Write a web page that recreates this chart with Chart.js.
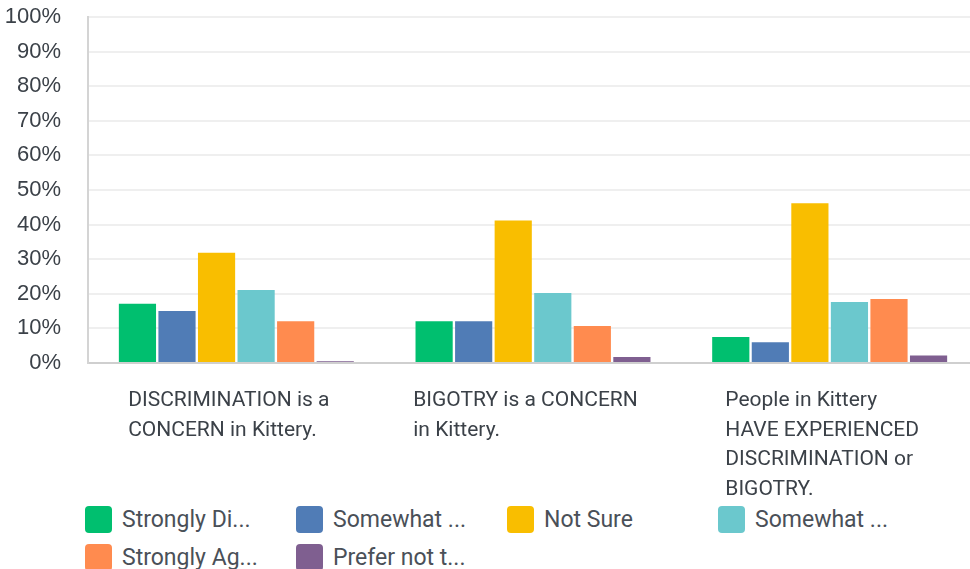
<!DOCTYPE html>
<html>
<head>
<meta charset="utf-8">
<script src="https://cdn.jsdelivr.net/npm/chart.js@4/dist/chart.umd.min.js"></script>
<style>
  html, body { margin: 0; padding: 0; background: #fff; overflow: hidden; width: 970px; height: 569px; }
  #wrap { position: absolute; left: 0; top: 0; width: 980px; height: 500px; }
  #legend { position: absolute; left: 85px; top: 506px; display: grid; grid-template-columns: repeat(4, 211px); row-gap: 11px; }
  .item { display: flex; align-items: center; height: 27px; font-family: Roboto, sans-serif; font-size: 23px; color: #4a5058; white-space: nowrap; }
  .box { width: 27px; height: 27px; border-radius: 4px; margin-right: 10px; flex: none; }
</style>
</head>
<body>
<div id="wrap"><canvas id="surveyChart"></canvas></div>
<div id="legend"></div>
<script>
const categories = [
  ['DISCRIMINATION is a', 'CONCERN in Kittery.'],
  ['BIGOTRY is a CONCERN', 'in Kittery.'],
  ['People in Kittery', 'HAVE EXPERIENCED', 'DISCRIMINATION or', 'BIGOTRY.']
];
const seriesNames = ['Strongly Di...', 'Somewhat ...', 'Not Sure', 'Somewhat ...', 'Strongly Ag...', 'Prefer not t...'];
const stronglyDisagree = [17.1, 12.1, 7.5];
const somewhatDisagree = [15.0, 12.1, 6.0];
const notSure = [31.9, 41.2, 46.2];
const somewhatAgree = [21.1, 20.2, 17.6];
const stronglyAgree = [12.1, 10.7, 18.5];
const preferNot = [0.5, 1.7, 2.2];
const yTicks = [0, 10, 20, 30, 40, 50, 60, 70, 80, 90, 100];

const colors = ['#00bf6f', '#507cb6', '#f9be00', '#6bc8cd', '#ff8b4f', '#7f5f90'];
const series = [stronglyDisagree, somewhatDisagree, notSure, somewhatAgree, stronglyAgree, preferNot];

// x labels: left aligned lines, block centred a bit left of the tick
const xLabels = {
  id: 'xLabels',
  afterDraw(chart) {
    const ctx = chart.ctx;
    const xs = chart.scales.x;
    const top = chart.chartArea.bottom + 38;
    ctx.save();
    ctx.font = '21px Roboto';
    ctx.fillStyle = '#3b4148';
    ctx.textAlign = 'left';
    ctx.textBaseline = 'middle';
    categories.forEach((lines, i) => {
      const cx = xs.getPixelForValue(i);
      const w = Math.max(...lines.map(l => ctx.measureText(l).width));
      const left = cx - 7.5 - w / 2;
      lines.forEach((l, k) => ctx.fillText(l, left, top + k * 29.5));
    });
    ctx.restore();
  }
};

const ctx = document.getElementById('surveyChart').getContext('2d');
const chart = new Chart(ctx, {
  type: 'bar',
  data: {
    labels: categories,
    datasets: series.map((d, i) => ({
      label: seriesNames[i],
      data: d,
      backgroundColor: colors[i],
      borderWidth: 0,
      categoryPercentage: 0.8,
      barPercentage: 0.94
    }))
  },
  options: {
    responsive: true,
    maintainAspectRatio: false,
    animation: false,
    layout: { padding: { top: 17, left: 0, right: 2, bottom: 137 } },
    plugins: { legend: { display: false }, tooltip: { enabled: false } },
    scales: {
      x: {
        grid: { display: false, drawTicks: false },
        border: { color: '#cfcfcf', width: 2 },
        ticks: { display: false }
      },
      y: {
        min: 0,
        max: 100,
        afterBuildTicks: s => { s.ticks = yTicks.map(v => ({ value: v })); },
        afterFit: s => { s.width = 88; s.paddingTop = 12; s.paddingBottom = 12; },
        grid: { color: '#efefef', lineWidth: 2, drawTicks: false },
        border: { color: '#d4d4d4', width: 2 },
        ticks: {
          padding: 27,
          color: '#3b4148',
          font: { family: 'Liberation Sans', size: 22 },
          callback: v => v + '%'
        }
      }
    }
  },
  plugins: [xLabels]
});

const legend = document.getElementById('legend');
seriesNames.forEach((name, i) => {
  const item = document.createElement('div');
  item.className = 'item';
  const box = document.createElement('span');
  box.className = 'box';
  box.style.background = colors[i];
  item.appendChild(box);
  item.appendChild(document.createTextNode(name));
  legend.appendChild(item);
});
</script>
</body>
</html>
